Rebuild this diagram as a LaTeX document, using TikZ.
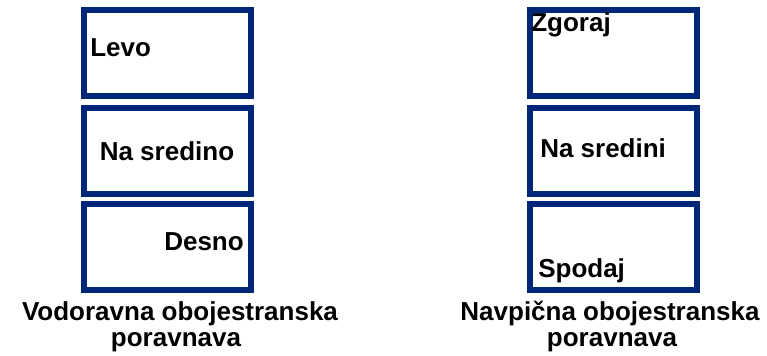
\documentclass[tikz,border=0pt]{standalone}
\usepackage{fontspec}
\setmainfont{Liberation Sans}
\definecolor{navyline}{RGB}{0, 38, 120}
\def\alignbox#1#2{
    \draw[navyline, line width=4.5pt] (#1, #2) rectangle ++(167, 86);
}

\begin{document}
\begin{tikzpicture}[x=0.75pt, y=-0.75pt, font=\bfseries\fontsize{19.5}{19.5}\selectfont]
\tikzset{boxtext/.style={inner sep=0, black}}
\useasboundingbox (0, 0) rectangle (767, 356);

% left column
\alignbox{84}{10} \alignbox{84}{108} \alignbox{84}{204}
\node[boxtext, anchor=base west] (levo) at (90, 57) {Levo};
\node[boxtext, anchor=base] (lsred) at (167, 161) {Na sredino};
\node[boxtext, anchor=base east] (desno) at (244, 250) {Desno};

% right column
\alignbox{530}{10} \alignbox{530}{108} \alignbox{530}{204}
\node[boxtext, anchor=base west] (zgoraj) at (531, 32) {Zgoraj};
\node[boxtext, anchor=base west] (rsred) at (540, 157) {Na sredini};
\node[boxtext, anchor=base west] (spodaj) at (538, 277) {Spodaj};

% captions
\node[boxtext, anchor=base] (lcapa) at (180, 320) {Vodoravna obojestranska};
\node[boxtext, anchor=base] (lcapb) at (176, 346) {poravnava};
\node[boxtext, anchor=base] (rcapa) at (610, 320) {Navpična obojestranska};
\node[boxtext, anchor=base] (rcapb) at (612, 346) {poravnava};
\end{tikzpicture}
\end{document}
